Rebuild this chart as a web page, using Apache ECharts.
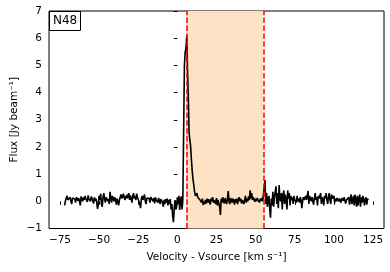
<!DOCTYPE html>
<html>
<head>
<meta charset="utf-8">
<script src="https://cdn.jsdelivr.net/npm/echarts@6/dist/echarts.min.js"></script>
<style>
html,body{margin:0;padding:0;background:#fff;}
#chart{width:390px;height:272px;}
</style>
</head>
<body>
<div id="chart"></div>
<script>
// Velocity channels (km/s): first channel and spacing
const velStart = -72;
const velStep = 0.5;
// Flux density (Jy/beam), one value per channel
const flux = [
  -0.15, 0.02, 0.12, 0.2, 0.05, -0.02, 0.1, 0.15, 0.0, -0.1,
  0.12, 0.05, 0.18, 0.08, -0.05, 0.15, 0.2, 0.02, 0.12, 0.06,
  -0.15, 0.18, 0.1, 0.0, 0.14, 0.05, 0.2, 0.1, 0.15, -0.02,
  0.22, 0.08, 0.12, 0.0, 0.18, 0.1, 0.05, -0.08, 0.15, 0.02,
  0.1, -0.05, -0.28, -0.12, 0.2, 0.05, 0.28, -0.1, -0.2, 0.15,
  0.3, 0.1, -0.05, 0.15, 0.2, 0.0, 0.08, -0.1, 0.35, 0.12,
  -0.05, 0.2, 0.1, 0.0, 0.15, 0.05, -0.12, 0.1, 0.0, -0.15,
  0.05, 0.12, 0.25, 0.1, 0.18, 0.28, 0.15, 0.05, 0.2, 0.1,
  0.25, 0.12, 0.3, 0.05, 0.22, 0.15, -0.05, 0.2, 0.3, 0.1,
  0.18, 0.05, 0.28, 0.15, 0.1, 0.22, -0.1, -0.25, 0.1, 0.2,
  0.05, 0.15, 0.25, 0.0, -0.1, 0.12, 0.05, 0.18, 0.1, -0.05,
  0.15, 0.08, 0.2, 0.0, 0.12, -0.08, 0.15, 0.05, 0.1, -0.05,
  0.12, 0.02, -0.1, 0.08, 0.15, -0.05, -0.2, 0.05, -0.1, 0.08,
  -0.05, 0.1, -0.15, 0.05, -0.1, 0.08, -0.3, -0.1, -0.55, -0.77,
  -0.25, 0.05, -0.3, -0.2, 0.15, -0.1, 0.2, -0.32, 0.05, 0.18,
  -0.3, 0.05, 0.1, 5.0, 5.5, 5.6, 6.1, 4.8, 3.8, 2.5,
  2.25, 2.0, 1.5, 1.1, 0.8, 0.6, 0.35, 0.2, 0.25, 0.3,
  0.15, 0.1, 0.2, 0.05, 0.12, -0.05, 0.1, -0.14, 0.0, -0.1,
  0.05, -0.08, 0.1, -0.05, 0.08, 0.02, -0.12, 0.1, 0.0, 0.15,
  -0.05, 0.05, 0.1, -0.1, 0.12, -0.15, 0.05, 0.1, -0.2, -0.5,
  0.1, -0.05, 0.15, 0.0, -0.08, 0.12, 0.05, -0.1, 0.1, 0.38,
  0.0, -0.1, 0.12, 0.05, -0.05, 0.1, 0.0, -0.12, 0.08, -0.05,
  0.1, -0.1, 0.05, 0.15, 0.0, 0.1, -0.08, 0.05, 0.12, -0.1,
  0.05, 0.2, -0.05, 0.1, 0.0, 0.18, 0.05, 0.4, 0.1, 0.3,
  0.05, 0.15, 0.2, -0.02, 0.1, 0.0, 0.12, 0.05, 0.15, -0.05,
  0.1, 0.02, 0.12, 0.0, -0.05, 0.05, 0.78, -0.1, 0.3, -0.2,
  0.1, 0.2, -0.3, -0.6, 0.1, -0.15, 0.35, -0.2, 0.15, 0.1,
  0.55, -0.1, 0.3, -0.25, 0.6, 0.1, 0.0, 0.3, -0.3, 0.2,
  0.4, -0.1, 0.25, 0.05, -0.3, 0.4, 0.1, 0.3, -0.15, 0.2,
  0.05, 0.15, -0.1, 0.2, 0.05, 0.1, -0.05, 0.2, 0.0, 0.1,
  -0.05, 0.15, 0.05, -0.25, 0.0, 0.15, 0.05, 0.1, 0.2, 0.05,
  0.1, 0.38, -0.1, 0.2, 0.25, 0.0, 0.15, 0.2, -0.12, 0.1,
  0.3, 0.05, 0.15, -0.15, 0.2, 0.1, 0.05, 0.3, -0.1, 0.15,
  0.05, -0.15, 0.2, 0.1, 0.3, 0.05, -0.1, 0.15, 0.3, 0.05,
  -0.1, 0.25, 0.1, 0.05, 0.2, -0.05, 0.1, 0.0, 0.12, 0.05,
  0.0, 0.1, 0.08, -0.05, 0.12, 0.05, 0.02, 0.15, 0.1, -0.08,
  0.05, 0.12, 0.0, 0.15, -0.12, 0.1, 0.25, -0.1, 0.0, 0.2,
  -0.15, 0.25, 0.05, -0.2, 0.2, -0.15, 0.1, 0.25, -0.2, 0.15,
  -0.05, 0.2, 0.1, -0.15, 0.05, 0.15, -0.12, 0.1, 0.05
];
// Shaded velocity window and its dashed boundaries
const windowRange = [5.7, 55];
// Tick labels
const xTicks = [-75, -50, -25, 0, 25, 50, 75, 100, 125];
const yTicks = [-1, 0, 1, 2, 3, 4, 5, 6, 7];
const sourceLabel = 'N48';

const lineData = flux.map((f, i) => [velStart + i * velStep, f]);
const minus = v => String(v).replace('-', '\u2212');
const FONT = 'DejaVu Sans';

const chart = echarts.init(document.getElementById('chart'), null, {renderer: 'canvas'});
chart.setOption({
  animation: false,
  backgroundColor: '#fff',
  textStyle: {fontFamily: FONT},
  title: {
    text: sourceLabel,
    left: 49, top: 11,
    padding: [4, 4, 4, 4],
    borderColor: '#000', borderWidth: 1,
    backgroundColor: '#fff',
    textStyle: {fontFamily: FONT, fontSize: 12, fontWeight: 'normal', color: '#000'}
  },
  grid: {
    left: 49, right: 6, top: 11, bottom: 43.5,
    outerBoundsMode: 'none',
    containLabel: false,
    show: true, borderColor: '#000', borderWidth: 1, backgroundColor: 'transparent'
  },
  xAxis: {
    type: 'value',
    min: -82, max: 132,
    name: 'Velocity - Vsource [km s\u207B\u00B9]',
    nameLocation: 'middle', nameGap: 23, nameMoveOverlap: false,
    nameTextStyle: {fontFamily: FONT, fontSize: 10.5, color: '#000'},
    axisLine: {show: false},
    splitLine: {show: false},
    axisTick: {show: true, length: 3.5, customValues: xTicks, lineStyle: {color: '#000', width: 1}},
    axisLabel: {customValues: xTicks, margin: 6, fontFamily: FONT, fontSize: 10.5, color: '#000', formatter: minus}
  },
  yAxis: {
    type: 'value',
    min: yTicks[0], max: yTicks[yTicks.length - 1], interval: 1,
    name: 'Flux [Jy beam\u207B\u00B9]',
    nameLocation: 'middle', nameGap: 29, nameMoveOverlap: false,
    nameTextStyle: {fontFamily: FONT, fontSize: 10.5, color: '#000'},
    axisLine: {show: false},
    splitLine: {show: false},
    axisTick: {show: true, length: 3.5, lineStyle: {color: '#000', width: 1}},
    axisLabel: {margin: 7, fontFamily: FONT, fontSize: 10.5, color: '#000', formatter: minus}
  },
  series: [
    {
      type: 'line', data: [], z: 1, silent: true,
      markArea: {
        silent: true,
        itemStyle: {color: '#fde2c5'},
        data: [[{xAxis: windowRange[0]}, {xAxis: windowRange[1]}]]
      }
    },
    {
      type: 'line', data: lineData, z: 2,
      showSymbol: false, symbol: 'none',
      lineStyle: {color: '#000', width: 1.6},
      itemStyle: {color: '#000'}
    },
    {
      type: 'line', data: [], z: 3, silent: true,
      markLine: {
        silent: true, symbol: 'none',
        label: {show: false},
        lineStyle: {color: '#ff0000', width: 1.5, type: [5.5, 2.4]},
        data: [{xAxis: windowRange[0]}, {xAxis: windowRange[1]}]
      }
    }
  ]
});
</script>
</body>
</html>
